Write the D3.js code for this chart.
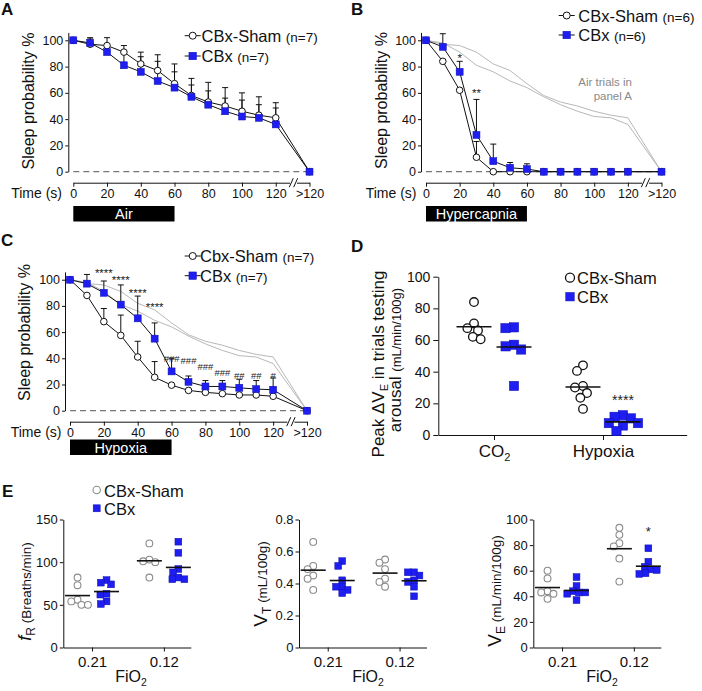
<!DOCTYPE html>
<html><head><meta charset="utf-8">
<script src="https://cdn.jsdelivr.net/npm/d3@7"></script>
<style>body{margin:0;background:#fff} svg{display:block;background:#fff} text{font-family:"Liberation Sans",Arial,Helvetica,sans-serif}</style>
</head><body>
<svg id="c" width="702" height="691"></svg>
<script>
// ---------------- DATA ----------------
const timeValues = [0,10,20,30,40,50,60,70,80,90,100,110,120,140]; // 140 stands for ">120"
const timeTickValues = [0,20,40,60,80,100,120,140];
const timeTickLabels = ["0","20","40","60","80","100","120",">120"];
const sleepTicks = [0,20,40,60,80,100];

// Panel A (air)
const airShamMean = [100,97,96,91,82,77,67,58,53,50,46,43,41,0];
const airShamErr  = [0,5,6,5,9,12,15,13,15,14,14,14,11.5,0];
const airCbxMean  = [100,98,91,81,76,69,64,57,51,46,42,41,36,0];
const airCbxErr   = [0,3,5,10,11.5,15,12,9,10.5,10,12.5,10,12.5,0];

// Panel B (hypercapnia)
const hcShamMean = [100,84,62,11,0,0,0,0,0,0,0,0,0,0];
const hcShamErr  = [0,0,0,12,0,0,0,0,0,0,0,0,0,0];
const hcCbxMean  = [100,95,76,28,8,3,2,0,0,0,0,0,0,0];
const hcCbxErr   = [0,10,8,27,13,4,4,0,0,0,0,0,0,0];
const hcMarks = ["*","**"];
const hcMarkTimes = [20,30];
const hcMarkLevels = [89,62];

// Panel C (hypoxia)
const hxShamMean = [100,88,68,57.5,41,25.5,19.5,15.5,14,13,12,12,11,0];
const hxShamErr  = [0,0,10,15.5,12,12,0,0,0,0,0,0,0,0];
const hxCbxMean  = [100,97,90,81,70.5,55,30,22,18.5,18.5,17.5,16.5,16,0];
const hxCbxErr   = [0,7,9,15,17,12,10,4.5,4.5,4.5,6.5,6.5,9,0];
const hxMarks = ["****","****","****","****","###","###","###","###","##","##","#"];
const hxMarkTimes = [20,30,40,50,60,70,80,90,100,110,120];
const hxMarkLevels = [107,102,92,81,40,38.5,34,29,27,27,27];

// Panel D (peak ΔVE)
const dCategories = ["CO2","Hypoxia"];
const dTicks = [0,20,40,60,80,100];
const dSham = [[84,70.5,67.5,66,62,60.5],[44,40.5,31,30,26.5,23.5,16.5]];
const dCbx  = [[68,67.5,57,56,54,31],[12.5,11.5,10.5,7.5,7.5,6,2.5]];
const dMarks = ["****"]; const dMarkCat = [1]; const dMarkLevels = [24];

// Panel E
const eCategories = ["0.21","0.12"];
const fRTicks = [0,50,100,150];
const fRSham = [[82,73,56,54,50,50],[122,103,101,100,82]];
const fRCbx  = [[79,76,74,63,62,54,51],[124,111,92,88,82,80,80]];
const vtTicks = [0,0.2,0.4,0.6,0.8];
const vtSham = [[0.66,0.51,0.49,0.45,0.43,0.36],[0.55,0.53,0.49,0.43,0.41,0.38]];
const vtCbx  = [[0.54,0.51,0.42,0.38,0.38,0.36,0.34],[0.47,0.47,0.45,0.42,0.41,0.38,0.32]];
const veTicks = [0,20,40,60,80,100];
const veSham = [[60,54,44,43,42,38],[93.5,88,81.5,79,69.5,51.5]];
const veCbx  = [[55,48,44,43,43,42,37],[77.5,67,63,61,60.5,58,57.5]];
const veMarks = ["*"]; const veMarkCat = [1]; const veMarkLevels = [93.5];

// ---------------- DRAWING ----------------
const svg = d3.select("#c");
const FONT = '"Liberation Sans", Arial, Helvetica, sans-serif';
const BLUE = "#1e1ef2";
const BLUE_EDGE = "#1010b0";
const INK = "#111";

function styleAxis(a, fs){
  a.attr("font-family", FONT);
  a.selectAll("text").attr("font-size", fs).attr("fill", INK);
  a.selectAll("path,line").attr("stroke", INK).attr("stroke-width", 1);
}
function mark(g, t, x, yc, fs){
  const off = t[0] === "*" ? 0.6*fs : 0.36*fs;
  g.append("text").text(t).attr("x", x).attr("y", yc + off)
    .attr("text-anchor","middle").attr("font-size", fs).attr("fill","#222");
}
function circ(g, cx, cy, r, stroke, sw){
  g.append("circle").attr("cx",cx).attr("cy",cy).attr("r",r)
    .attr("fill","#fff").attr("stroke",stroke).attr("stroke-width",sw);
}
function sq(g, cx, cy, s){
  g.append("rect").attr("x",cx-s/2).attr("y",cy-s/2).attr("width",s).attr("height",s)
    .attr("fill",BLUE).attr("stroke",BLUE_EDGE).attr("stroke-width",0.5);
}
function panelLetter(t, x, y){
  svg.append("text").text(t).attr("x",x).attr("y",y).attr("font-size",17).attr("font-weight","bold").attr("fill",INK);
}

function timePanel(o){
  const g = svg.append("g");
  const x = d3.scaleLinear().domain([0,140]).range([o.x0, o.x140]);
  const y = d3.scaleLinear().domain([0,100]).range([o.y0, o.y100]);
  const yAx = d3.scaleLinear().domain([0,106]).range([o.y0, y(106)]);

  // reference (air) lines
  if (o.ref) {
    o.ref.forEach(arr => {
      g.append("path").datum(arr)
        .attr("d", d3.line().x((d,i)=>x(timeValues[i])).y(d=>y(d)))
        .attr("fill","none").attr("stroke","#b8b8b8").attr("stroke-width",1);
    });
  }
  // dashed zero line
  g.append("line").attr("x1",x(0)).attr("x2",x(140)).attr("y1",y(0)).attr("y2",y(0))
    .attr("stroke","#777").attr("stroke-width",1.2).attr("stroke-dasharray","6,4");

  // y axis
  g.append("g").attr("transform",`translate(${o.yAxisX},0)`)
    .call(d3.axisLeft(yAx).tickValues(sleepTicks).tickSize(3).tickPadding(2).tickSizeOuter(0))
    .call(a=>styleAxis(a,12.5));
  g.append("text").text("Sleep probability %")
    .attr("transform",`translate(${o.yLabelX},${o.yLabelY}) rotate(-90)`)
    .attr("text-anchor","middle").attr("font-size",16).attr("fill",INK);

  // x axis
  g.append("g").attr("transform",`translate(0,${o.xAxisY})`)
    .call(d3.axisBottom(x).tickValues(timeTickValues).tickFormat((d,i)=>timeTickLabels[i])
      .tickSize(4).tickPadding(2).tickSizeOuter(0))
    .call(a=>styleAxis(a,12.5));
  const bx = x(130.5);
  g.append("rect").attr("x",bx-3.5).attr("y",o.xAxisY-2).attr("width",7).attr("height",4).attr("fill","#fff");
  [-2.2,2.2].forEach(dx => g.append("line")
    .attr("x1",bx+dx-2).attr("y1",o.xAxisY+4.5).attr("x2",bx+dx+2).attr("y2",o.xAxisY-4.5)
    .attr("stroke",INK).attr("stroke-width",1));
  g.append("text").text("Time (s)").attr("x",o.timeLabelX).attr("y",o.xAxisY+15)
    .attr("text-anchor","end").attr("font-size",14).attr("fill",INK);

  // stimulus bar
  g.append("rect").attr("x",x(0)).attr("y",o.barY).attr("width",x(60)-x(0)).attr("height",15.5).attr("fill","#000");
  g.append("text").text(o.barLabel).attr("x",(x(0)+x(60))/2).attr("y",o.barY+13.3)
    .attr("text-anchor","middle").attr("font-size",14.5).attr("fill","#fff");

  // series lines + error bars
  const line = d3.line().x((d,i)=>x(timeValues[i])).y(d=>y(d));
  [[o.sham,o.shamErr],[o.cbx,o.cbxErr]].forEach(([m,e]) => {
    g.append("path").datum(m).attr("d",line).attr("fill","none").attr("stroke",INK).attr("stroke-width",1);
    m.forEach((v,i) => {
      if (e[i] > 0) {
        const xx = x(timeValues[i]), yt = y(v+e[i]);
        g.append("line").attr("x1",xx).attr("x2",xx).attr("y1",y(v)).attr("y2",yt).attr("stroke",INK);
        g.append("line").attr("x1",xx-3).attr("x2",xx+3).attr("y1",yt).attr("y2",yt).attr("stroke",INK);
      }
    });
  });
  o.sham.forEach((v,i)=>circ(g, x(timeValues[i]), y(v), 3.3, INK, 1));
  o.cbx.forEach((v,i)=>sq(g, x(timeValues[i]), y(v), 7));

  // significance marks
  if (o.marks) o.marks.forEach((t,i)=>mark(g, t, x(o.markTimes[i]), y(o.markLevels[i]), t[0]==="*"?11.5:9.5));

  // legend
  const L = o.legend;
  [[L.r1y,"c",L.t1,L.n1],[L.r2y,"s","CBx",L.n2]].forEach(([yy,k,lab,n],j) => {
    g.append("line").attr("x1",L.x-8).attr("x2",L.x+8).attr("y1",yy).attr("y2",yy).attr("stroke",INK);
    if (k==="c") circ(g, L.x, yy, 3.5, INK, 1); else sq(g, L.x, yy, 7.5);
    const t = g.append("text").attr("x",L.tx).attr("y",yy+6).attr("font-size",16.5).attr("fill",INK);
    t.append("tspan").text(lab);
    t.append("tspan").attr("dx",4.5).attr("font-size",13.5).text(n);
  });
  return {x,y};
}

// ----- Panel A -----
panelLetter("A",1,15);
timePanel({x0:73.3,x140:309.5,y0:171.7,y100:40.3,yAxisX:68.3,xAxisY:182.7,
  yLabelX:34,yLabelY:101,timeLabelX:62,barY:206,barLabel:"Air",
  sham:airShamMean,shamErr:airShamErr,cbx:airCbxMean,cbxErr:airCbxErr,
  legend:{x:192.7,tx:201.5,r1y:35.7,r2y:56,t1:"CBx-Sham",n1:"(n=7)",n2:"(n=7)"}});

// ----- Panel B -----
panelLetter("B",351,15);
timePanel({x0:426,x140:661.5,y0:171.7,y100:40.3,yAxisX:421,xAxisY:182.7,
  yLabelX:386.5,yLabelY:100.5,timeLabelX:416.5,barY:206,barLabel:"Hypercapnia",
  ref:[airShamMean,airCbxMean],
  sham:hcShamMean,shamErr:hcShamErr,cbx:hcCbxMean,cbxErr:hcCbxErr,
  marks:hcMarks,markTimes:hcMarkTimes,markLevels:hcMarkLevels,
  legend:{x:566.7,tx:578.3,r1y:15.5,r2y:35,t1:"CBx-Sham",n1:"(n=6)",n2:"(n=6)"}});
svg.append("text").attr("x",632).attr("y",85.5).attr("text-anchor","end").attr("font-size",11.5).attr("fill","#8a8a8a").text("Air trials in");
svg.append("text").attr("x",632).attr("y",100).attr("text-anchor","end").attr("font-size",11.5).attr("fill","#8a8a8a").text("panel A");

// ----- Panel C -----
panelLetter("C",1,246);
timePanel({x0:70,x140:307,y0:410.7,y100:279.7,yAxisX:65,xAxisY:421.7,
  yLabelX:30,yLabelY:332.5,timeLabelX:61.5,barY:439.5,barLabel:"Hypoxia",
  ref:[airShamMean,airCbxMean],
  sham:hxShamMean,shamErr:hxShamErr,cbx:hxCbxMean,cbxErr:hxCbxErr,
  marks:hxMarks,markTimes:hxMarkTimes,markLevels:hxMarkLevels,
  legend:{x:192.7,tx:200,r1y:256,r2y:275.7,t1:"Cbx-Sham",n1:"(n=7)",n2:"(n=7)"}});

// ---------- beeswarm ----------
function swarm(vals, y, cx, d){
  const pts = vals.map(v=>({v, y:y(v), x:0}));
  const order = pts.slice().sort((a,b)=>b.v-a.v);
  const placed = [];
  order.forEach(p => {
    const cands = [0];
    placed.forEach(q => {
      const dy = Math.abs(q.y-p.y);
      if (dy < d) { const dx = Math.sqrt(d*d-dy*dy); cands.push(q.x+dx, q.x-dx); }
    });
    cands.sort((a,b)=>Math.abs(a)-Math.abs(b) || a-b);
    for (const c of cands) {
      if (placed.every(q => (q.x-c)**2 + (q.y-p.y)**2 >= d*d-0.01)) { p.x = c; break; }
    }
    placed.push(p);
  });
  return pts.map(p=>({v:p.v, cx:cx+p.x, cy:p.y}));
}

function subText(sel, main, sub){
  sel.text(null);
  sel.append("tspan").text(main);
  sel.append("tspan").attr("font-size","0.65em").attr("dy","0.35em").text(sub);
}

function dotPanel(o){
  const g = svg.append("g");
  const y = d3.scaleLinear().domain([0,o.yMax]).range([o.y0,o.yTop]);
  const x = d3.scaleLinear().domain(o.xDom).range([o.ax0,o.ax1]);
  // axes
  g.append("g").attr("transform",`translate(${o.ax0},0)`)
    .call(d3.axisLeft(y).tickValues(o.ticks).tickFormat(o.fmt||(d=>d)).tickSize(o.tick).tickPadding(o.pad).tickSizeOuter(0))
    .call(a=>styleAxis(a,o.fs));
  const xa = g.append("g").attr("transform",`translate(0,${o.y0})`)
    .call(d3.axisBottom(x).tickValues([0,1]).tickFormat(i=>o.cats[i]).tickSize(o.xtick).tickPadding(o.xpad).tickSizeOuter(0))
    .call(a=>styleAxis(a,o.xfs));
  xa.selectAll(".tick text").each(function(d){
    if (o.cats[d]==="CO2") subText(d3.select(this),"CO","2");
  });
  // points
  o.cats.forEach((c,ci) => {
    const cs = x(ci)-o.off, cc = x(ci)+o.off;
    const ps = swarm(o.sham[ci], y, cs, o.r*2*0.95);
    ps.forEach(p=>circ(g,p.cx,p.cy,o.r,o.cstroke,o.csw));
    const pc = swarm(o.cbx[ci], y, cc, o.s*0.92);
    pc.forEach(p=>sq(g,p.cx,p.cy,o.s));
    [[cs,d3.mean(o.sham[ci])],[cc,d3.mean(o.cbx[ci])]].forEach(([mx,mv]) => {
      g.append("line").attr("x1",mx-o.half).attr("x2",mx+o.half).attr("y1",y(mv)).attr("y2",y(mv))
        .attr("stroke","#111").attr("stroke-width",1.6);
    });
  });
  if (o.marks) o.marks.forEach((t,i)=>mark(g,t,x(o.markCat[i])+o.off,y(o.markLevels[i]),o.markFs));
  return {x,y,g};
}

// ----- Panel D -----
panelLetter("D",351,251.5);
dotPanel({y0:435,yTop:276.7,yMax:100,ax0:438.3,ax1:686.7,xDom:[-0.511,1.768],
  ticks:dTicks,tick:5,pad:3,fs:14,xtick:5,xpad:5,xfs:17,cats:dCategories,
  sham:dSham,cbx:dCbx,off:20,r:4.3,s:9.3,cstroke:"#111",csw:1.3,half:17.5,
  marks:dMarks,markCat:dMarkCat,markLevels:dMarkLevels,markFs:14});
{
  const t1 = svg.append("text").attr("transform","translate(383.5,364) rotate(-90)")
    .attr("text-anchor","middle").attr("font-size",17).attr("fill",INK);
  t1.append("tspan").text("Peak ΔV");
  t1.append("tspan").attr("font-size",11).attr("dy",4).text("E");
  t1.append("tspan").attr("dy",-4).text(" in trials testing");
  const t2 = svg.append("text").attr("transform","translate(400.5,360) rotate(-90)")
    .attr("text-anchor","middle").attr("font-size",17).attr("fill",INK);
  t2.append("tspan").text("arousal ");
  t2.append("tspan").attr("font-size",13).text("(mL/min/100g)");
  // legend
  circ(svg,570,277.7,4.5,"#111",1.3);
  svg.append("text").attr("x",577).attr("y",284.3).attr("font-size",16.5).attr("fill",INK).text("CBx-Sham");
  sq(svg,570,296.7,8.5);
  svg.append("text").attr("x",577).attr("y",302.7).attr("font-size",16.5).attr("fill",INK).text("CBx");
}

// ----- Panel E -----
panelLetter("E",2,497);
const eCommon = {y0:647.5,yTop:519.5,xDom:[-0.4,1.375],tick:3.5,pad:2,fs:13,xtick:4,xpad:5,xfs:15,
  cats:eCategories,off:14.5,r:3.4,s:6.8,cstroke:"#8a8a8a",csw:1.1,half:12.5,markFs:13};
dotPanel(Object.assign({},eCommon,{ax0:63.3,ax1:190.8,yMax:150,ticks:fRTicks,sham:fRSham,cbx:fRCbx}));
dotPanel(Object.assign({},eCommon,{ax0:299,ax1:426.5,yMax:0.8,ticks:vtTicks,
  fmt:d=>d===0?"0":d3.format(".1f")(d),sham:vtSham,cbx:vtCbx}));
dotPanel(Object.assign({},eCommon,{ax0:533.3,ax1:660.8,yMax:100,ticks:veTicks,sham:veSham,cbx:veCbx,
  marks:veMarks,markCat:veMarkCat,markLevels:veMarkLevels}));

// E axis titles
[[131,"FiO","2"],[368,"FiO","2"],[602,"FiO","2"]].forEach(([xx,m,s]) => {
  const t = svg.append("text").attr("x",xx).attr("y",682).attr("text-anchor","middle").attr("font-size",16).attr("fill",INK);
  subText(t,m,s);
});
{
  const a = svg.append("text").attr("transform","translate(31,591.5) rotate(-90)").attr("text-anchor","middle").attr("fill",INK);
  a.append("tspan").attr("font-size",18).attr("font-style","italic").text("f");
  a.append("tspan").attr("font-size",12).attr("dy",3.5).text("R");
  a.append("tspan").attr("font-size",13.5).attr("dy",-3.5).text(" (Breaths/min)");
  const b = svg.append("text").attr("transform","translate(267,584) rotate(-90)").attr("text-anchor","middle").attr("fill",INK);
  b.append("tspan").attr("font-size",19).text("V");
  b.append("tspan").attr("font-size",12).attr("dy",3.5).text("T");
  b.append("tspan").attr("font-size",13.5).attr("dy",-3.5).text(" (mL/100g)");
  const c = svg.append("text").attr("transform","translate(501,591) rotate(-90)").attr("text-anchor","middle").attr("fill",INK);
  c.append("tspan").attr("font-size",19).text("V");
  c.append("tspan").attr("font-size",12).attr("dy",3.5).text("E");
  c.append("tspan").attr("font-size",13.5).attr("dy",-3.5).text(" (mL/min/100g)");
  // legend
  circ(svg,96.7,490,3.7,"#8a8a8a",1.1);
  svg.append("text").attr("x",104).attr("y",496.7).attr("font-size",16.5).attr("fill",INK).text("CBx-Sham");
  sq(svg,96.7,508.3,7);
  svg.append("text").attr("x",104).attr("y",514.5).attr("font-size",16.5).attr("fill",INK).text("CBx");
}
</script>
</body></html>
